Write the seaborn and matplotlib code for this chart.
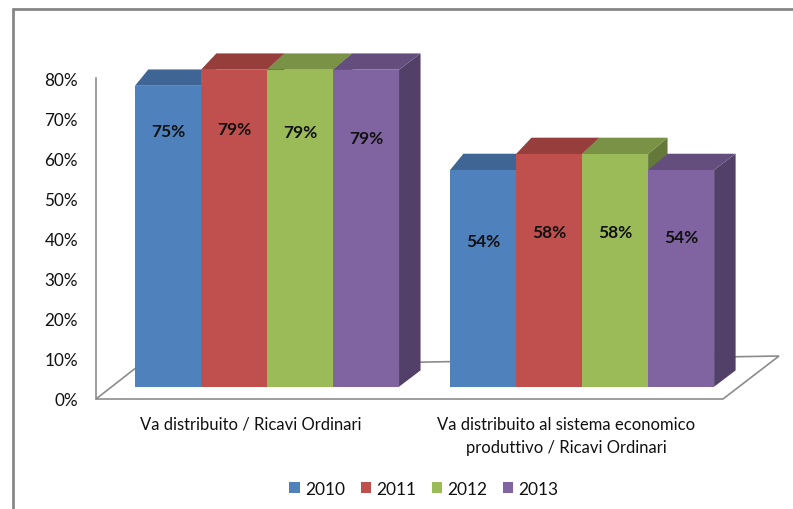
import numpy as np
import pandas as pd
import matplotlib
matplotlib.use("Agg")
import matplotlib.pyplot as plt
import seaborn as sns
from matplotlib.patches import Polygon, Patch
from matplotlib.lines import Line2D
from matplotlib.transforms import ScaledTranslation, IdentityTransform

# ---- data -------------------------------------------------------------
categories = [
    "Va distribuito / Ricavi Ordinari",
    "Va distribuito al sistema economico\nproduttivo / Ricavi Ordinari",
]
years = ["2010", "2011", "2012", "2013"]
values_2010 = [75, 54]
values_2011 = [79, 58]
values_2012 = [79, 58]
values_2013 = [79, 54]
y_ticks = [0, 10, 20, 30, 40, 50, 60, 70, 80]
y_tick_labels = [f"{t}%" for t in y_ticks]

# ---- styling ----------------------------------------------------------
front_colors = ["#4F81BD", "#C0504D", "#9BBB59", "#8064A2"]
top_colors = ["#3E6594", "#963E3C", "#799245", "#644E7E"]
side_colors = ["#33547A", "#7B3331", "#64783A", "#524068"]
# vertical placement of the value labels on each column face (per category, per year)
label_heights = [[63.8, 64.2, 63.6, 62.0], [36.4, 38.5, 38.5, 37.2]]

series = [values_2010, values_2011, values_2012, values_2013]
df = pd.DataFrame(
    [(c, y, v[i]) for y, v in zip(years, series) for i, c in enumerate(categories)],
    columns=["category", "year", "value"],
)

sns.set_theme(style="white")
plt.rcParams["font.family"] = ["Lato", "DejaVu Sans"]
text_color = "#111111"

DPI = 100
W, H = 793, 510
fig = plt.figure(figsize=(W / DPI, H / DPI), dpi=DPI)
fig.patch.set_facecolor("white")

# front plane of the 3-D box (wall + floor front edge)
ax = fig.add_axes([96 / W, (H - 400) / H, (723 - 96) / W, (400 - 79) / H])
ax.set_facecolor("none")

sns.barplot(
    data=df, x="category", y="value", hue="year",
    order=categories, hue_order=years, palette=front_colors,
    saturation=1, width=0.838, errorbar=None, legend=False,
    linewidth=0, edgecolor="none", ax=ax,
)
ax.set_xlim(-0.492, 1.498)
ax.set_ylim(0, 80)
ax.set_autoscale_on(False)
ax.set_xlabel("")
ax.set_ylabel("")

# columns stand in the middle of the box depth: shift them back/up
shift = ScaledTranslation(16 / DPI, 12.3 / DPI, fig.dpi_scale_trans)
bar_trans = ax.transData + shift

bars = sorted(ax.patches, key=lambda p: p.get_x())
for p in bars:
    p.set_transform(bar_trans)
    p.set_clip_on(False)

DEPTH_Y = 16.3
value_lookup = {(c, y): v[i] for y, v in zip(years, series) for i, c in enumerate(categories)}

for ci, cat in enumerate(categories):
    group = [p for p in bars if round(p.get_x() + p.get_width() / 2) == ci]
    group.sort(key=lambda p: p.get_x())
    corners = [bar_trans.transform([(p.get_x(), 0), (p.get_x() + p.get_width(), p.get_height())])
               for p in group]
    gx0 = corners[0][0][0]
    gx1 = corners[-1][1][0]

    def depth_x(x):
        return 13.3 + 8.2 * (x - gx0) / (gx1 - gx0)

    for hi, (p, c) in enumerate(zip(group, corners)):
        (x0, y0), (x1, y1) = c
        z = 3 + 3 * hi
        side = [(x1, y0), (x1, y1), (x1 + depth_x(x1), y1 + DEPTH_Y), (x1 + depth_x(x1), y0 + DEPTH_Y)]
        top = [(x0, y1), (x1, y1), (x1 + depth_x(x1), y1 + DEPTH_Y), (x0 + depth_x(x0), y1 + DEPTH_Y)]
        ax.add_patch(Polygon(side, closed=True, facecolor=side_colors[hi], edgecolor="none",
                             transform=IdentityTransform(), clip_on=False, zorder=z))
        ax.add_patch(Polygon(top, closed=True, facecolor=top_colors[hi], edgecolor="none",
                             transform=IdentityTransform(), clip_on=False, zorder=z + 1))
        p.set_zorder(z + 2)

        val = value_lookup[(cat, years[hi])]
        ax.text(p.get_x() + p.get_width() / 2, label_heights[ci][hi], f"{val:.0f}%",
                transform=bar_trans, ha="center", va="center", fontsize=12.5,
                fontweight="bold", color=text_color, zorder=100, clip_on=False)

# floor of the 3-D box
fl, fr = ax.transAxes.transform([(0, 0), (1, 0)])
floor = [tuple(fl), tuple(fr), (fr[0] + 56, fr[1] + 43), (fl[0] + 41, fl[1] + 32)]
ax.add_patch(Polygon(floor, closed=True, facecolor="none", edgecolor="#8c8c8c", lw=1.2,
                     transform=IdentityTransform(), clip_on=False, zorder=1))

for s in ["top", "right", "bottom"]:
    ax.spines[s].set_visible(False)
ax.spines["left"].set_color("#8c8c8c")
ax.spines["left"].set_linewidth(1.2)

ax.set_yticks(y_ticks, y_tick_labels)
ax.tick_params(axis="y", length=0, pad=13, labelsize=12.3, labelcolor=text_color)
ax.set_xticks([0, 1], categories)
ax.tick_params(axis="x", length=0, pad=12, labelsize=12, labelcolor=text_color)
for t in ax.get_xticklabels():
    t.set_linespacing(1.6)
ax.grid(False)

handles = [Patch(facecolor=c, edgecolor="none", label=y) for c, y in zip(front_colors, years)]
fig.legend(handles=handles, loc="center", bbox_to_anchor=(424 / W, 20 / H), ncol=4,
           frameon=False, handlelength=0.6, handleheight=0.6, handletextpad=0.3,
           columnspacing=0.9, fontsize=12.5, labelcolor=text_color)

# chart-area border
border = "#878787"
fig.add_artist(Line2D([13 / W, 1], [1 - 10 / H, 1 - 10 / H], transform=fig.transFigure,
                      color=border, lw=2))
fig.add_artist(Line2D([13 / W, 13 / W], [0, 1 - 10 / H], transform=fig.transFigure,
                      color=border, lw=2))

fig.savefig("out.png", dpi=DPI, facecolor="white")
